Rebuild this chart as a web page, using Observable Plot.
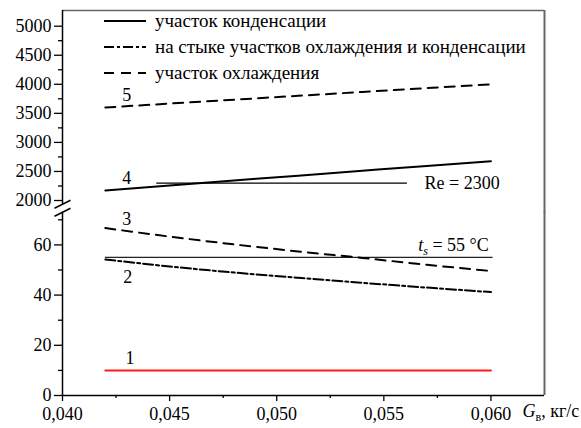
<!DOCTYPE html>
<html>
<head>
<meta charset="utf-8">
<script src="https://cdn.jsdelivr.net/npm/d3@7"></script>
<script src="https://cdn.jsdelivr.net/npm/@observablehq/plot@0.6"></script>
<style>
  html, body { margin: 0; padding: 0; background: #fff; }
  #wrap { position: relative; width: 581px; height: 428px; font-family: "Liberation Serif", Tinos, "Times New Roman", Times, "DejaVu Serif", "Noto Serif", FreeSerif, serif; color: #000; }
  #wrap > svg { display: block; position: absolute; left: 0; top: 0; }
  .legend { position: absolute; left: 104px; top: 0; }
  .legend .row { position: absolute; left: 0; height: 20px; line-height: 20px; white-space: nowrap; font-size: 19px; }
  .legend .row svg { display: inline-block; vertical-align: middle; margin-right: 9px; }
  .legend .row span { vertical-align: middle; }
</style>
</head>
<body>
<div id="wrap"></div>
<script>
// ---- data ----
const G = [0.042, 0.045, 0.048, 0.051, 0.054, 0.057, 0.060];         // Gв, кг/с
const curve1 = [10, 10, 10, 10, 10, 10, 10];                          // участок конденсации (temperature)
const curve2 = [54.2, 51.4, 49.0, 46.9, 44.9, 43.0, 41.2];            // на стыке участков
const curve3 = [66.7, 63.3, 60.2, 57.4, 54.8, 52.1, 49.6];            // участок охлаждения
const curve4 = [2172, 2258, 2343, 2428, 2512, 2595, 2676];            // участок конденсации (Re)
const curve5 = [3600, 3668, 3735, 3802, 3868, 3934, 4000];            // участок охлаждения (Re)

const ts = 55;            // t_s = 55 °C
const ReCrit = 2300;      // Re = 2300
const tsSpan = [0.042, 0.0601];
const ReSpan = [0.0444, 0.0561];

const xTicks = [0.040, 0.045, 0.050, 0.055, 0.060];
const xMinor = [0.0425, 0.0475, 0.0525, 0.0575];
const yTicksLow = [0, 20, 40, 60];
const yMinorLow = [10, 30, 50, 70];
const yTicksHigh = [2000, 2500, 3000, 3500, 4000, 4500, 5000];
const yMinorHigh = [2250, 2750, 3250, 3750, 4250, 4750];

const curveNames = ["1", "2", "3", "4", "5"];
const lowLabels = [{x: 0.04315, y: 14.7, i: 0}, {x: 0.04305, y: 47, i: 1}, {x: 0.0430, y: 70.3, i: 2}];
const highLabels = [{x: 0.0430, y: 2379, i: 3}, {x: 0.0430, y: 3807, i: 4}];
const legendLabels = ["участок конденсации", "на стыке участков охлаждения и конденсации", "участок охлаждения"];

// ---- layout ----
const W = 581, H = 428;
const xDomain = [0.040, 0.0625];
const lowTop = 73, highBottom = 1935, highTop = 5270;
const lowPix = [395, 211.77];     // pixel span of the lower (temperature) part
const highPix = [203.78, 10];     // pixel span of the upper (Re) part

const FONT = "'Liberation Serif', Tinos, 'Times New Roman', Times, 'DejaVu Serif', 'Noto Serif', FreeSerif, serif";
const FS = 18;
const rows = (vals) => G.map((g, i) => ({G: g, v: vals[i]}));
const DASH = "10,7";
const DASHDOT = "10,3,3,3";
const slash = { draw(ctx) { ctx.moveTo(-8, 4); ctx.lineTo(8, -4); } };
const fmtX = d => d.toFixed(3).replace(".", ",");
const base = {
  width: W, height: H, marginLeft: 62, marginRight: 37,
  style: { fontFamily: FONT, fontSize: FS + "px", background: "transparent", color: "#000", overflow: "visible" }
};

const yHi = Plot.scale({ y: { domain: [highBottom, highTop], range: highPix } });

// lower panel: temperatures
const lower = Plot.plot({
  ...base,
  marginTop: lowPix[1], marginBottom: H - lowPix[0],
  x: { domain: xDomain, label: null },
  y: { domain: [0, lowTop], label: null },
  marks: [
    Plot.ruleX([xDomain[1]], { y1: 0, y2: lowTop, stroke: "#666", strokeWidth: 2 }),
    Plot.ruleX([xDomain[0]], { y1: 0, y2: lowTop, stroke: "#000", strokeWidth: 1.5 }),
    Plot.dot([lowTop], { x: () => xDomain[0], y: d => d, symbol: slash, stroke: "#000", strokeWidth: 1.5, fill: "none", r: 8 }),
    Plot.ruleY([0], { stroke: "#000", strokeWidth: 1.5 }),
    Plot.axisX({ ticks: xTicks, tickFormat: fmtX, tickSize: 6, tickPadding: 6, strokeWidth: 1.3 }),
    Plot.axisX({ ticks: xMinor, tickFormat: () => "", tickSize: 3, strokeWidth: 1.3 }),
    Plot.axisY({ ticks: yTicksLow, tickFormat: d => String(d), tickSize: 8, tickPadding: 3, strokeWidth: 1.3 }),
    Plot.axisY({ ticks: yMinorLow, tickFormat: () => "", tickSize: 4, strokeWidth: 1.3 }),
    Plot.ruleY([ts], { x1: tsSpan[0], x2: tsSpan[1], stroke: "#222", strokeWidth: 1.2 }),
    Plot.text(["ts = 55 °C"], { x: 0.0599, y: 59.8, text: d => d, textAnchor: "end", fontSize: FS }),
    Plot.line(rows(curve1), { x: "G", y: "v", stroke: "#ff1a1a", strokeWidth: 2, curve: "monotone-x" }),
    Plot.line(rows(curve2), { x: "G", y: "v", stroke: "#000", strokeWidth: 2, strokeDasharray: DASHDOT, curve: "monotone-x" }),
    Plot.line(rows(curve3), { x: "G", y: "v", stroke: "#000", strokeWidth: 2, strokeDasharray: DASH, curve: "monotone-x" }),
    Plot.text(lowLabels, { x: "x", y: "y", text: d => curveNames[d.i], fontSize: FS }),
    Plot.text(["Gв, кг/с"], { frameAnchor: "bottom-right", text: d => d, textAnchor: "start", dx: -22, dy: 21, fontSize: FS })
  ]
});

// upper panel: Reynolds numbers
const upper = Plot.plot({
  ...base,
  marginTop: highPix[1], marginBottom: H - highPix[0],
  x: { domain: xDomain, label: null, axis: null },
  y: { domain: [highBottom, highTop], label: null },
  marks: [
    Plot.ruleY([highTop], { stroke: "#666", strokeWidth: 1.5 }),
    Plot.ruleX([xDomain[1]], { y1: yHi.invert(lowPix[1] + 1), y2: highTop, stroke: "#666", strokeWidth: 2 }),
    Plot.ruleX([xDomain[0]], { y1: highBottom, y2: highTop, stroke: "#000", strokeWidth: 1.5 }),
    Plot.dot([highBottom], { x: () => xDomain[0], y: d => d, symbol: slash, stroke: "#000", strokeWidth: 1.5, fill: "none", r: 8 }),
    Plot.axisY({ ticks: yTicksHigh, tickFormat: d => String(d), tickSize: 8, tickPadding: 3, strokeWidth: 1.3 }),
    Plot.axisY({ ticks: yMinorHigh, tickFormat: () => "", tickSize: 4, strokeWidth: 1.3 }),
    Plot.ruleY([ReCrit], { x1: ReSpan[0], x2: ReSpan[1], stroke: "#000", strokeWidth: 1.2 }),
    Plot.text(["Re = 2300"], { x: 0.0569, y: ReCrit, text: d => d, textAnchor: "start", fontSize: FS }),
    Plot.line(rows(curve4), { x: "G", y: "v", stroke: "#000", strokeWidth: 2, curve: "monotone-x" }),
    Plot.line(rows(curve5), { x: "G", y: "v", stroke: "#000", strokeWidth: 2, strokeDasharray: DASH, curve: "monotone-x" }),
    Plot.text(highLabels, { x: "x", y: "y", text: d => curveNames[d.i], fontSize: FS })
  ]
});

// rich text (italic symbols with subscripts)
const NS = "http://www.w3.org/2000/svg";
function rich(node, parts) {
  node.textContent = "";
  let shift = 0;
  parts.forEach(p => {
    const t = document.createElementNS(NS, "tspan");
    t.textContent = p.t;
    if (p.italic) t.setAttribute("font-style", "italic");
    const want = p.sub ? 4 : 0;
    if (want !== shift) { t.setAttribute("dy", String(want - shift)); shift = want; }
    if (p.sub) t.setAttribute("font-size", "12");
    node.appendChild(t);
  });
}
d3.select(lower).selectAll("text").each(function () {
  const s = this.textContent;
  if (s === "ts = 55 °C") rich(this, [{t: "t", italic: true}, {t: "s", italic: true, sub: true}, {t: " = 55 °C"}]);
  if (s === "Gв, кг/с") rich(this, [{t: "G", italic: true}, {t: "в", sub: true}, {t: ", кг/с"}]);
});

const wrap = document.getElementById("wrap");
wrap.appendChild(lower);
wrap.appendChild(upper);

// legend inside the plot area
const legendDash = [null, DASHDOT, DASH];
const legendTop = [9, 35, 61];
const leg = document.createElement("div");
leg.className = "legend";
legendLabels.forEach((lab, i) => {
  const row = document.createElement("div");
  row.className = "row";
  row.style.top = legendTop[i] + "px";
  const dash = legendDash[i] ? `stroke-dasharray="${legendDash[i]}"` : "";
  row.innerHTML = `<svg width="42" height="10"><line x1="0" x2="42" y1="5" y2="5" stroke="#000" stroke-width="2" ${dash}/></svg><span>${lab}</span>`;
  leg.appendChild(row);
});
wrap.appendChild(leg);
</script>
</body>
</html>
